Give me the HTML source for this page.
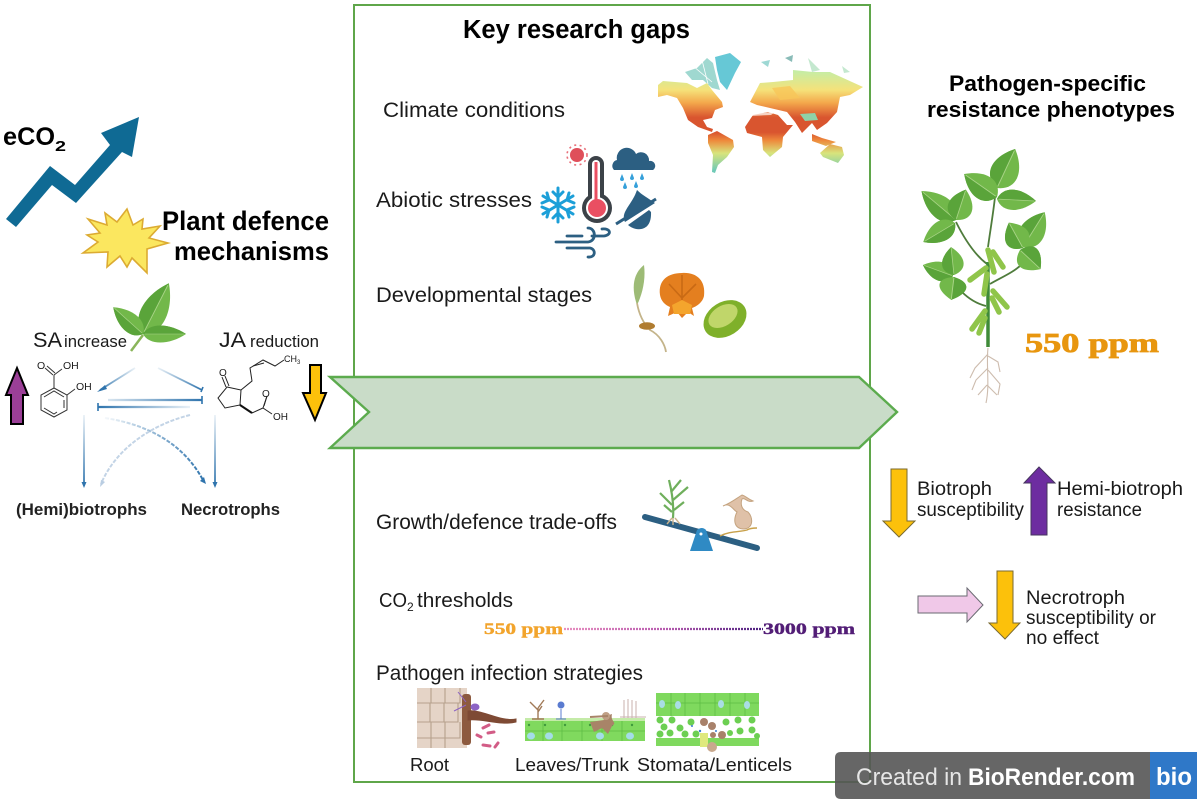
<!DOCTYPE html>
<html><head><meta charset="utf-8"><style>
html,body{margin:0;padding:0;background:#fff;width:1200px;height:803px;overflow:hidden}
svg{display:block}
text{font-family:"Liberation Sans",sans-serif;fill:#1a1a1a}
.b{font-weight:bold;fill:#000}
.s{font-family:"Liberation Serif",serif;font-weight:bold}
</style></head><body>
<svg width="1200" height="803" viewBox="0 0 1200 803" xmlns="http://www.w3.org/2000/svg">
<defs>
<g id="leaf"><path d="M0 0C14 -30 60 -30 100 0C60 30 14 30 0 0Z" fill="#72b84a"/><path d="M0 0C14 -30 60 -30 100 0Z" fill="#5aa43a"/><path d="M4 0H96" fill="none" stroke="#a9d487" stroke-width="1.6"/></g>
<linearGradient id="mapg" gradientUnits="userSpaceOnUse" x1="0" y1="60" x2="0" y2="175">
<stop offset=".1" stop-color="#c6eda4"/><stop offset=".26" stop-color="#f5e27a"/><stop offset=".37" stop-color="#f4a94c"/><stop offset=".5" stop-color="#d9552f"/><stop offset=".63" stop-color="#d9552f"/><stop offset=".7" stop-color="#ee8a3c"/><stop offset=".81" stop-color="#d8e47c"/><stop offset=".96" stop-color="#6fcab6"/></linearGradient>
<linearGradient id="f1" gradientUnits="userSpaceOnUse" x1="135" y1="368" x2="97" y2="392"><stop offset="0" stop-color="#2f74ad" stop-opacity=".1"/><stop offset="1" stop-color="#2f74ad"/></linearGradient>
<linearGradient id="f2" gradientUnits="userSpaceOnUse" x1="158" y1="368" x2="202" y2="390"><stop offset="0" stop-color="#2f74ad" stop-opacity=".1"/><stop offset="1" stop-color="#2f74ad"/></linearGradient>
<linearGradient id="f3" gradientUnits="userSpaceOnUse" x1="98" y1="0" x2="203" y2="0"><stop offset="0" stop-color="#2f74ad" stop-opacity=".1"/><stop offset="1" stop-color="#2f74ad"/></linearGradient>
<linearGradient id="f4" gradientUnits="userSpaceOnUse" x1="98" y1="0" x2="190" y2="0"><stop offset="0" stop-color="#2f74ad"/><stop offset="1" stop-color="#2f74ad" stop-opacity=".1"/></linearGradient>
<linearGradient id="f5" gradientUnits="userSpaceOnUse" x1="0" y1="415" x2="0" y2="487"><stop offset="0" stop-color="#2f74ad" stop-opacity=".1"/><stop offset="1" stop-color="#2f74ad"/></linearGradient>
<linearGradient id="f6" gradientUnits="userSpaceOnUse" x1="105" y1="0" x2="205" y2="0"><stop offset="0" stop-color="#2f74ad" stop-opacity=".05"/><stop offset="1" stop-color="#2f74ad"/></linearGradient>
<linearGradient id="dots" gradientUnits="userSpaceOnUse" x1="564" y1="0" x2="763" y2="0"><stop offset="0" stop-color="#e88fc0"/><stop offset=".5" stop-color="#b95cb0"/><stop offset="1" stop-color="#4c1f80"/></linearGradient>
</defs>

<!-- central frame -->
<rect x="354" y="5" width="516" height="777" fill="none" stroke="#5fa64a" stroke-width="2"/>
<polygon points="330,377 859,377 897,412 859,448 330,448 369,412" fill="#c9dcc8" stroke="#5cab4e" stroke-width="2.4"/>

<!-- left top -->
<text x="3" y="145" class="b" font-size="25" textLength="52" lengthAdjust="spacingAndGlyphs">eCO</text><text x="55" y="151" class="b" font-size="15" textLength="11" lengthAdjust="spacingAndGlyphs">2</text>
<polygon points="6,219 50,166 75,185 110,145 101,133 139,117 132,157 122,152 76,203 52,185 16,227" fill="#0f6a94"/>
<polygon points="127,209 133,225 143,219 142,229 160,226 149,238 168,243 147,249 147,273 132,258 127,267 120,256 107,267 108,252 83,253 98,242 87,235 100,233 88,219 107,225 105,213 117,222" fill="#fbe75f" stroke="#dcab32" stroke-width="1.6"/>
<text x="162" y="230" class="b" font-size="26.5" textLength="167" lengthAdjust="spacingAndGlyphs">Plant defence</text>
<text x="174" y="260" class="b" font-size="26" textLength="155" lengthAdjust="spacingAndGlyphs">mechanisms</text>

<!-- small leaf -->
<line x1="143" y1="335" x2="131" y2="351" stroke="#8ab55a" stroke-width="2.5"/>
<use href="#leaf" transform="translate(143,334) rotate(-63) scale(.57,.58)"/>
<use href="#leaf" transform="translate(143,334) rotate(-138) scale(.4,.42)"/>
<use href="#leaf" transform="translate(143,334) rotate(0) scale(.43,.38)"/>

<text x="33" y="347" font-size="21" textLength="29" lengthAdjust="spacingAndGlyphs">SA</text><text x="64" y="347" font-size="16.5" textLength="63" lengthAdjust="spacingAndGlyphs">increase</text>
<text x="219" y="347" font-size="21" textLength="27" lengthAdjust="spacingAndGlyphs">JA</text><text x="250" y="347" font-size="16.5" textLength="69" lengthAdjust="spacingAndGlyphs">reduction</text>

<!-- salicylic acid -->
<g fill="none" stroke="#333" stroke-width="1">
<polygon points="54,388 67,395 67,410 54,417 41,410 41,395"/>
<polyline points="44,397 54,391 64,397"/><line x1="64" y1="400" x2="64" y2="408"/><polyline points="44,408 54,414 57,412"/>
<line x1="54" y1="388" x2="54" y2="375"/><line x1="53" y1="375" x2="45" y2="368"/><line x1="55" y1="373" x2="47" y2="366"/><line x1="54" y1="375" x2="62" y2="369"/><line x1="67" y1="395" x2="75" y2="389"/>
</g>
<text x="37" y="369" font-size="10.5">O</text><text x="63" y="369" font-size="10.5">OH</text><text x="76" y="390" font-size="10.5">OH</text>
<polygon points="17,368 28,395 23,395 23,424 11,424 11,395 6,395" fill="#9b3f97" stroke="#000" stroke-width="2"/>

<!-- jasmonic acid -->
<g fill="none" stroke="#222" stroke-width="1">
<polygon points="227,387 241,390 240,405 225,408 218,398"/>
<line x1="226" y1="387" x2="222" y2="377"/><line x1="229" y1="386" x2="225" y2="376"/>
<polyline points="241,390 252,381 250,368 263,360 275,366 284,360"/><line x1="253" y1="366" x2="264" y2="363"/>
<polyline points="252,413 263,408 267,396"/><line x1="264" y1="406" x2="267" y2="396"/><line x1="263" y1="408" x2="272" y2="414"/>
</g>
<line x1="240" y1="405" x2="252" y2="413" stroke="#111" stroke-width="2"/>
<text x="219" y="376" font-size="10">O</text><text x="262" y="397" font-size="10">O</text><text x="273" y="420" font-size="10">OH</text><text x="284" y="362" font-size="9">CH</text><text x="297" y="364" font-size="6">3</text>
<polygon points="310,365 321,365 321,393 326,393 315,420 303,393 310,393" fill="#fcc10b" stroke="#000" stroke-width="2"/>

<!-- network -->
<g fill="none" stroke-width="1.8">
<line x1="135" y1="368" x2="100" y2="390" stroke="url(#f1)"/>
<line x1="158" y1="368" x2="202" y2="390" stroke="url(#f2)"/>
<line x1="108" y1="400" x2="202" y2="400" stroke="url(#f3)" stroke-width="2.2"/>
<line x1="98" y1="407" x2="190" y2="407" stroke="url(#f4)" stroke-width="2.2"/>
<line x1="84" y1="415" x2="84" y2="485" stroke="url(#f5)"/>
<line x1="215" y1="415" x2="215" y2="485" stroke="url(#f5)"/>
<path d="M105 418C150 425 185 445 204 482" stroke="url(#f6)" stroke-dasharray="4 1.5" stroke-width="2"/>
<path d="M190 415C150 425 115 450 101 484" stroke="#c3d4e6" stroke-dasharray="4 1.5" stroke-width="2"/>
</g>
<g fill="#2f74ad"><polygon points="97,392 105,385 107,389"/><polygon points="84,488 81.5,482 86.5,482"/><polygon points="215,488 212.5,482 217.5,482"/><polygon points="206,484 200,481 204,477"/></g>
<polygon points="100,487 101,480 105,482" fill="#b9cde2"/>
<g stroke="#2f74ad" stroke-width="1.6"><line x1="203" y1="387" x2="201" y2="392"/><line x1="202" y1="396" x2="202" y2="404"/><line x1="98" y1="403" x2="98" y2="411"/></g>
<text x="16" y="515" class="b" font-size="16.5" textLength="131" lengthAdjust="spacingAndGlyphs" style="fill:#222">(Hemi)biotrophs</text>
<text x="181" y="515" class="b" font-size="16.5" textLength="99" lengthAdjust="spacingAndGlyphs" style="fill:#222">Necrotrophs</text>

<!-- centre texts -->
<text x="463" y="38" class="b" font-size="25.5" textLength="227" lengthAdjust="spacingAndGlyphs">Key research gaps</text>
<text x="383" y="117" font-size="21.5" textLength="182" lengthAdjust="spacingAndGlyphs">Climate conditions</text>
<text x="376" y="207" font-size="21.5" textLength="156" lengthAdjust="spacingAndGlyphs">Abiotic stresses</text>
<text x="376" y="302" font-size="21.5" textLength="216" lengthAdjust="spacingAndGlyphs">Developmental stages</text>
<text x="376" y="529" font-size="21.5" textLength="241" lengthAdjust="spacingAndGlyphs">Growth/defence trade-offs</text>
<text x="379" y="607" font-size="20" textLength="28" lengthAdjust="spacingAndGlyphs">CO</text><text x="407" y="611" font-size="12">2</text><text x="417" y="607" font-size="20.5" textLength="96" lengthAdjust="spacingAndGlyphs">thresholds</text>
<text x="376" y="680" font-size="21" textLength="267" lengthAdjust="spacingAndGlyphs">Pathogen infection strategies</text>
<text x="410" y="771" font-size="18.5" textLength="39" lengthAdjust="spacingAndGlyphs">Root</text>
<text x="515" y="771" font-size="18.5" textLength="114" lengthAdjust="spacingAndGlyphs">Leaves/Trunk</text>
<text x="637" y="771" font-size="18.5" textLength="155" lengthAdjust="spacingAndGlyphs">Stomata/Lenticels</text>

<!-- map -->
<polygon points="715,57 730,53 741,62 735,73 727,90 720,82 717,70" fill="#66c8d6"/>
<polygon points="685,72 697,68 707,58 713,63 717,80 720,90 712,88 703,80 692,80" fill="#9fd8d0"/>
<g stroke="#fff" stroke-width=".8"><line x1="693" y1="66" x2="712" y2="82"/><line x1="702" y1="60" x2="708" y2="84"/></g>
<polygon points="761,62 770,60 768,67" fill="#9ed8d4"/><polygon points="785,58 793,55 792,62" fill="#8abcb8"/>
<polygon points="808,58 820,70 812,72" fill="#c4e8cf"/><polygon points="842,66 850,72 844,73" fill="#c4e8cf"/>
<g fill="url(#mapg)">
<polygon points="658,85 663,81 687,83 697,88 707,83 712,90 722,102 723,107 715,110 712,118 703,120 707,127 713,129 712,132 698,127 688,120 683,108 677,98 667,95 658,97"/>
<polygon points="708,135 717,131 733,140 734,147 727,157 718,165 715,173 712,172 713,155 708,143"/>
<polygon points="745,127 753,115 768,112 778,115 787,125 793,125 783,137 782,147 770,157 763,150 762,137 747,133"/>
<polygon points="750,102 760,83 773,82 793,80 793,70 813,72 830,72 863,87 850,95 840,97 837,112 827,123 817,130 812,123 802,133 795,122 787,112 770,108 757,105"/>
<polygon points="820,153 830,144 842,147 844,155 838,163 823,157"/>
<polygon points="812,134 822,138 836,142 826,146 812,141"/>
</g>
<polygon points="800,114 815,113 818,120 805,121" fill="#8fd2a8"/>
<polygon points="748,114 775,112 771,115 750,116" fill="#fff" opacity=".7"/>
<polygon points="772,88 790,86 800,98 780,100" fill="#f8c559" opacity=".8"/>

<!-- abiotic icons -->
<circle cx="577" cy="155" r="7" fill="#df4f5a"/>
<g stroke="#e8707a" stroke-width="1.6" stroke-dasharray="2 3.5" fill="none"><circle cx="577" cy="155" r="10"/></g>
<line x1="596" y1="164" x2="596" y2="200" stroke="#3c4248" stroke-width="16" stroke-linecap="round"/>
<circle cx="597" cy="208" r="15" fill="#3c4248"/><circle cx="597" cy="208" r="11" fill="#fff"/>
<line x1="596" y1="164" x2="596" y2="200" stroke="#fff" stroke-width="8" stroke-linecap="round"/>
<circle cx="597" cy="208" r="9" fill="#ea4f62"/><line x1="596" y1="162" x2="596" y2="204" stroke="#ea4f62" stroke-width="3"/>
<path d="M614 170a6 6 0 0 1 3-10a10 10 0 0 1 19-6a8 8 0 0 1 13 7a5 5 0 0 1 4 9Z" fill="#2c5f82"/>
<g fill="#35a0da"><path d="M622 174l-2 5a2 2 0 0 0 4 0Z"/><path d="M632 173l-2 5a2 2 0 0 0 4 0Z"/><path d="M642 173l-2 5a2 2 0 0 0 4 0Z"/><path d="M625 182l-2 5a2 2 0 0 0 4 0Z"/><path d="M636 181l-2 5a2 2 0 0 0 4 0Z"/></g>
<g stroke="#1c9fd8" stroke-width="3" fill="none" stroke-linecap="round">
<line x1="558" y1="188" x2="558" y2="222"/><line x1="543" y1="196" x2="573" y2="214"/><line x1="543" y1="214" x2="573" y2="196"/>
<polyline points="553,192 558,197 563,192"/><polyline points="553,218 558,213 563,218"/><polyline points="542,203 549,200 547,193"/><polyline points="574,207 567,210 569,217"/><polyline points="542,207 549,210 547,217"/><polyline points="574,203 567,200 569,193"/>
</g>
<path d="M637 190C632 205 620 212 625 222L655 203C648 198 642 195 637 190Z" fill="#2c5f82"/>
<path d="M628 225C636 232 652 232 651 212L649 210Z" fill="#2c5f82"/>
<line x1="616" y1="224" x2="656" y2="199" stroke="#2c5f82" stroke-width="3"/>
<g fill="none" stroke="#2c5f82" stroke-width="2.8" stroke-linecap="round">
<path d="M556 242H588C597 241 596 228 588 228"/>
<path d="M567 236H582"/>
<path d="M592 236H604C612 235 611 228 602 229"/>
<path d="M567 248H590C596 249 596 258 588 257"/>
</g>

<!-- dev stages -->
<path d="M637 305C630 285 635 272 644 265C646 280 642 295 637 305Z" fill="#9dbb76"/>
<path d="M637 303C640 320 648 328 650 330C660 335 665 345 666 352" fill="none" stroke="#c4b48a" stroke-width="1.8"/>
<ellipse cx="647" cy="326" rx="8" ry="3.8" fill="#b07c30"/>
<path d="M660 295C658 280 668 273 682 273C696 272 706 280 704 296C702 305 692 308 692 308L694 316L688 312L682 318L677 312L668 316L670 307C665 305 661 301 660 295Z" fill="#e47f1f"/>
<path d="M682 275V300M669 284L682 298L696 284" stroke="#c96a14" stroke-width="1.6" fill="none"/>
<path d="M672 305L682 300L692 305L690 314L674 314Z" fill="#f4a52d"/>
<ellipse cx="725" cy="319" rx="23" ry="17" transform="rotate(-32 725 319)" fill="#7fb02a"/>
<ellipse cx="723" cy="316" rx="16" ry="10" transform="rotate(-32 723 316)" fill="#c0d66a"/>

<!-- seesaw -->
<line x1="645" y1="517" x2="757" y2="548" stroke="#2c5f82" stroke-width="6" stroke-linecap="round"/>
<path d="M697 530Q702 526 706 530L713 551H690Z" fill="#2f8ac4"/><circle cx="701" cy="534" r="1.5" fill="#fff"/>
<g fill="none" stroke="#6faf5c" stroke-width="2.2"><path d="M673 518C674 505 672 492 669 480"/><path d="M672 505L660 493M673 500L688 487M672 512L664 505M674 510L684 502M671 492L681 480"/></g>
<path d="M672 518l-5 6M675 518l5 6M673 518v7" stroke="#c9b28c" stroke-width="1.4" fill="none"/>
<path d="M723 506C730 502 733 510 737 512C733 520 734 529 744 529C754 528 753 517 748 512C742 510 740 505 742 499C745 497 747 503 753 501C746 498 746 496 742 495C737 498 731 503 723 506Z" fill="#dfc1a8" stroke="#c4a37f"/>
<path d="M720 536C730 531 740 532 747 530C750 528 755 528 757 528" fill="none" stroke="#c8a04a" stroke-width="1.4"/>

<!-- CO2 range -->
<text x="484" y="634" class="s" font-size="16" textLength="79" lengthAdjust="spacingAndGlyphs" style="fill:#f2a42c;stroke:#f2a42c;stroke-width:.4">550 ppm</text>
<line x1="564" y1="629" x2="763" y2="629" stroke="url(#dots)" stroke-width="2.2" stroke-dasharray="2 1"/>
<text x="763" y="634" class="s" font-size="16" textLength="92" lengthAdjust="spacingAndGlyphs" style="fill:#521d76;stroke:#521d76;stroke-width:.4">3000 ppm</text>

<!-- root -->
<rect x="417" y="688" width="50" height="60" fill="#dcc6b4" opacity=".75"/>
<g fill="none" stroke="#b6a08c" stroke-width="1.1">
<path d="M417 703H431V688M431 703H445V688M445 703H460V688M417 722H430V703M430 722H444V703M444 722H458V703M417 738H431V722M431 738H445V722M445 738H460V722M431 738V748M445 738V748"/></g>
<rect x="462" y="694" width="9" height="51" rx="3" fill="#8d5a3f"/>
<path d="M468 711C482 709 500 722 516 719V722C500 726 482 718 468 720Z" fill="#7e4a34" stroke="#7e4a34"/>
<ellipse cx="475" cy="707" rx="4.5" ry="3.5" fill="#8d64c5"/><path d="M454 711L466 705M458 692L466 702" stroke="#8d64c5" stroke-width="1" fill="none"/>
<g stroke="#d25c86" stroke-width="3" stroke-linecap="round"><line x1="483" y1="728" x2="489" y2="725"/><line x1="488" y1="733" x2="494" y2="732"/><line x1="477" y1="735" x2="481" y2="737"/><line x1="483" y1="745" x2="490" y2="746"/><line x1="495" y1="747" x2="498" y2="743"/></g>

<!-- leaves/trunk -->
<rect x="525" y="718" width="120" height="4" fill="#c4eba8"/>
<rect x="525" y="721" width="120" height="20" fill="#80d95e"/>
<g stroke="#5fbc45" stroke-width=".8"><path d="M525 731H645M543 721V741M562 721V741M582 721V741M602 721V741M622 721V741"/></g>
<g fill="#a4dce8"><ellipse cx="531" cy="736" rx="4" ry="3.5"/><ellipse cx="549" cy="736" rx="4" ry="3.5"/><ellipse cx="600" cy="736" rx="4" ry="3.5"/><ellipse cx="630" cy="736" rx="4" ry="3.5"/></g>
<g fill="#3f9a3d"><circle cx="529" cy="725" r="1.2"/><circle cx="545" cy="725" r="1.2"/><circle cx="565" cy="725" r="1.2"/><circle cx="590" cy="725" r="1.2"/><circle cx="612" cy="725" r="1.2"/><circle cx="632" cy="725" r="1.2"/></g>
<path d="M538 719V708M538 710L530 702M538 708L544 700M538 712L542 706M532 719L544 719" stroke="#a17a58" stroke-width="1.4" fill="none"/>
<circle cx="561" cy="705" r="3.5" fill="#5a7bd0"/><path d="M561 709V719M556 719H566" stroke="#5a7bd0" stroke-width="1" fill="none"/>
<path d="M590 722L604 720L603 717L612 714C610 722 618 722 612 726L608 734L602 728L594 732Z" fill="#a88468"/>
<circle cx="606" cy="716" r="4" fill="#bf9f85"/><line x1="590" y1="717" x2="608" y2="716" stroke="#a88468" stroke-width="2"/>
<path d="M624 718V700M628 718V699M632 718V700M636 718V701M620 717H646" stroke="#c9b0ad" stroke-width="1" fill="none"/>

<!-- stomata/lenticels -->
<rect x="656" y="693" width="103" height="23" fill="#7fd95e"/>
<rect x="656" y="738" width="103" height="8" fill="#7fd95e"/>
<g stroke="#5fbc45" stroke-width=".8"><path d="M656 703H759M671 693V716M685 693V716M700 693V716M715 693V716M730 693V716M745 693V716"/></g>
<g fill="#a9dde5"><ellipse cx="662" cy="704" rx="3" ry="4"/><ellipse cx="678" cy="705" rx="3" ry="4"/><ellipse cx="721" cy="704" rx="3" ry="4"/><ellipse cx="747" cy="705" rx="3" ry="4"/></g>
<g fill="#6ccf52"><circle cx="660" cy="720" r="3.5"/><circle cx="664" cy="727" r="3.5"/><circle cx="672" cy="720" r="3.5"/><circle cx="660" cy="734" r="3.5"/><circle cx="670" cy="733" r="3.5"/><circle cx="680" cy="728" r="3.5"/><circle cx="691" cy="722" r="3.5"/><circle cx="685" cy="734" r="3.5"/><circle cx="696" cy="734" r="3.5"/><circle cx="726" cy="722" r="3.5"/><circle cx="738" cy="720" r="3.5"/><circle cx="752" cy="720" r="3.5"/><circle cx="740" cy="731" r="3.5"/><circle cx="752" cy="730" r="3.5"/><circle cx="757" cy="736" r="3"/><circle cx="730" cy="733" r="3"/></g>
<g fill="#a8816a"><circle cx="704" cy="722" r="4"/><circle cx="712" cy="726" r="4"/><circle cx="722" cy="735" r="4"/><circle cx="713" cy="735" r="3"/></g>
<rect x="700" y="733" width="8" height="14" fill="#dfe97d"/><circle cx="712" cy="747" r="5" fill="#c9a98e"/>
<g fill="#3b7cd0"><circle cx="692" cy="726" r="1"/><circle cx="700" cy="731" r="1.2"/><circle cx="716" cy="731" r="1"/></g>

<!-- right top -->
<text x="949" y="91" class="b" font-size="22.5" textLength="197" lengthAdjust="spacingAndGlyphs">Pathogen-specific</text>
<text x="927" y="117" class="b" font-size="22.5" textLength="248" lengthAdjust="spacingAndGlyphs">resistance phenotypes</text>

<!-- plant -->
<g fill="none" stroke="#4f7c3c" stroke-width="1.8">
<path d="M995 197C993 215 990 232 988 247"/><path d="M956 222C965 240 975 255 987 264"/><path d="M1023 263C1015 272 1000 278 990 284"/><path d="M962 292C970 300 978 304 986 306"/>
</g>
<line x1="988" y1="347" x2="988" y2="262" stroke="#3f8a38" stroke-width="3.5"/>
<use href="#leaf" transform="translate(997,188) rotate(-65) scale(.43,.62)"/>
<use href="#leaf" transform="translate(997,197) rotate(-145) scale(.4,.55)"/>
<use href="#leaf" transform="translate(997,199) rotate(3) scale(.39,.45)"/>
<use href="#leaf" transform="translate(956,220) rotate(-140) scale(.45,.5)"/>
<use href="#leaf" transform="translate(956,220) rotate(-72) scale(.32,.55)"/>
<use href="#leaf" transform="translate(955,223) rotate(149) scale(.37,.45)"/>
<use href="#leaf" transform="translate(1023,247) rotate(-58) scale(.41,.55)"/>
<use href="#leaf" transform="translate(1023,248) rotate(-119) scale(.29,.55)"/>
<use href="#leaf" transform="translate(1020,250) rotate(43) scale(.28,.55)"/>
<use href="#leaf" transform="translate(953,276) rotate(-160) scale(.32,.42)"/>
<use href="#leaf" transform="translate(954,275) rotate(-96) scale(.28,.48)"/>
<use href="#leaf" transform="translate(954,277) rotate(97) scale(.23,.6)"/>
<g stroke="#8fc54a" stroke-width="5.5" stroke-linecap="round">
<line x1="988" y1="250" x2="994" y2="272"/><line x1="993" y1="252" x2="1003" y2="267"/><line x1="986" y1="268" x2="970" y2="280"/><line x1="987" y1="274" x2="984" y2="294"/><line x1="993" y1="291" x2="1007" y2="307"/><line x1="992" y1="298" x2="999" y2="312"/><line x1="985" y1="311" x2="972" y2="329"/><line x1="985" y1="318" x2="979" y2="333"/>
</g>
<g fill="none" stroke="#cdbcae" stroke-width="1.1">
<path d="M988 348C986 365 990 385 986 403"/><path d="M988 354L975 368L970 378M988 356L998 362L1000 372M988 368L976 380L972 390M988 370L1000 384L998 395M987 385L978 395M987 385L997 395"/>
</g>
<text x="1025" y="352" class="s" font-size="27" textLength="134" lengthAdjust="spacingAndGlyphs" style="fill:#e8960f;stroke:#e8960f;stroke-width:.8">550 ppm</text>

<!-- right arrows -->
<polygon points="891,469 907,469 907,521 915,521 899,537 883,521 891,521" fill="#fcc10b" stroke="#7a6a30" stroke-width="1"/>
<text x="917" y="495" font-size="19" textLength="75" lengthAdjust="spacingAndGlyphs">Biotroph</text>
<text x="917" y="516" font-size="19" textLength="107" lengthAdjust="spacingAndGlyphs">susceptibility</text>
<polygon points="1039,467 1055,483 1047,483 1047,535 1031,535 1031,483 1024,483" fill="#6d2da0" stroke="#46355e" stroke-width="1"/>
<text x="1057" y="495" font-size="19.5" textLength="126" lengthAdjust="spacingAndGlyphs">Hemi-biotroph</text>
<text x="1057" y="516" font-size="19" textLength="85" lengthAdjust="spacingAndGlyphs">resistance</text>
<polygon points="918,596 967,596 967,588 983,605 967,622 967,613 918,613" fill="#f0c8e8" stroke="#6a6a72" stroke-width="1"/>
<polygon points="997,571 1013,571 1013,623 1020,623 1005,639 989,623 997,623" fill="#fcc10b" stroke="#7a6a30" stroke-width="1"/>
<text x="1026" y="604" font-size="19" textLength="99" lengthAdjust="spacingAndGlyphs">Necrotroph</text>
<text x="1026" y="624" font-size="19" textLength="130" lengthAdjust="spacingAndGlyphs">susceptibility or</text>
<text x="1026" y="644" font-size="19" textLength="73" lengthAdjust="spacingAndGlyphs">no effect</text>

<!-- watermark -->
<path d="M841 752H1150V799H841Q835 799 835 793V758Q835 752 841 752Z" fill="#555" opacity=".9"/>
<rect x="1150" y="752" width="47" height="47" fill="#2f78c8"/>
<text x="856" y="785" font-size="24" textLength="106" lengthAdjust="spacingAndGlyphs" style="fill:#e6e6e6">Created in</text>
<text x="968" y="785" font-size="24" font-weight="bold" textLength="167" lengthAdjust="spacingAndGlyphs" style="fill:#fff">BioRender.com</text>
<text x="1156" y="785" font-size="25" font-weight="bold" textLength="36" lengthAdjust="spacingAndGlyphs" style="fill:#fff">bio</text>
</svg>
</body></html>
